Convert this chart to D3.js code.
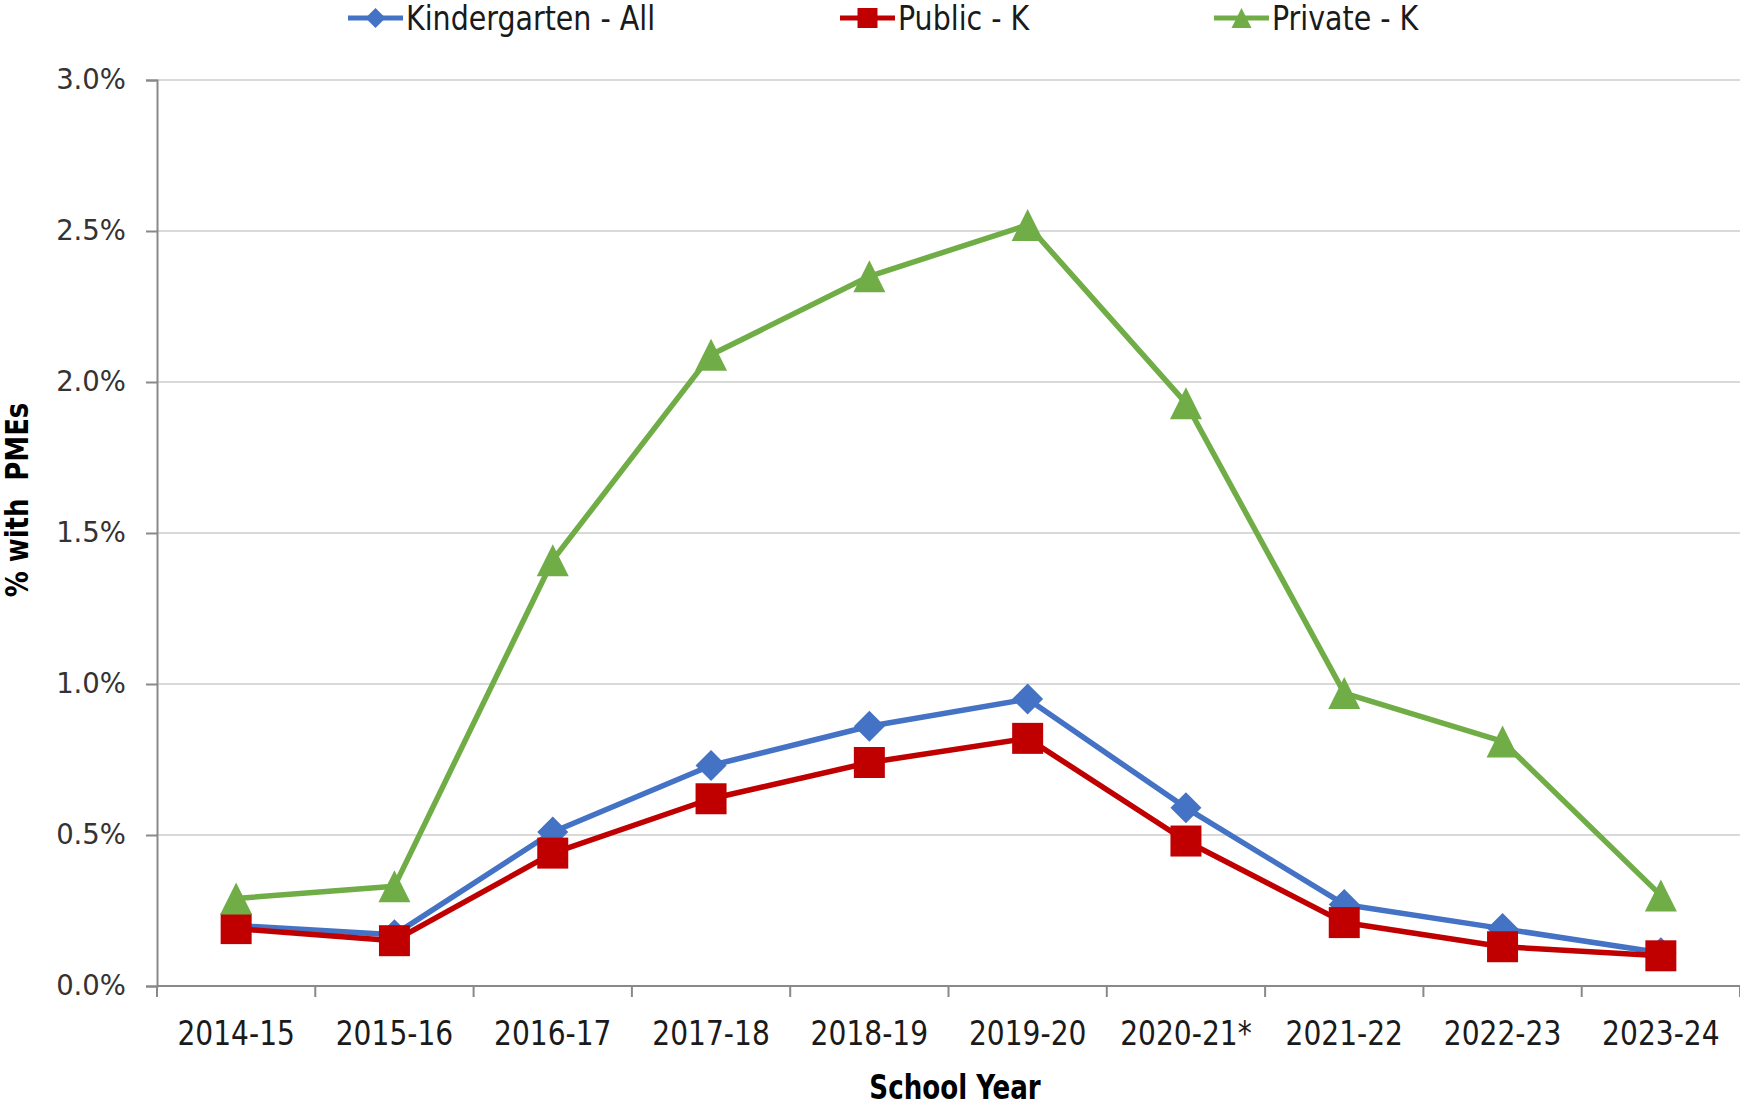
<!DOCTYPE html>
<html>
<head>
<meta charset="utf-8">
<script src="https://cdn.jsdelivr.net/npm/d3@7"></script>
<style>
  body { margin: 0; background: #fff; }
  svg { display: block; }
  .narrow { font-family: "DejaVu Sans Condensed", "DejaVu Sans", sans-serif; font-stretch: condensed; }
</style>
</head>
<body>
<div id="chart"></div>
<script>
// Chart data
const years = ['2014-15', '2015-16', '2016-17', '2017-18', '2018-19', '2019-20', '2020-21*', '2021-22', '2022-23', '2023-24'];
const kindergartenAll = [0.0020, 0.0017, 0.0051, 0.0073, 0.0086, 0.0095, 0.0059, 0.0027, 0.0019, 0.0011];
const publicK = [0.0019, 0.0015, 0.0044, 0.0062, 0.0074, 0.0082, 0.0048, 0.0021, 0.0013, 0.0010];
const privateK = [0.0029, 0.0033, 0.0141, 0.0209, 0.0235, 0.0252, 0.0193, 0.0097, 0.0081, 0.0030];
const yTicks = [0, 0.005, 0.01, 0.015, 0.02, 0.025, 0.03];

const series = [
    { name: 'Kindergarten - All', values: kindergartenAll, color: '#4472c4', marker: 'diamond' },
    { name: 'Public - K', values: publicK, color: '#c00000', marker: 'square' },
    { name: 'Private - K', values: privateK, color: '#70ad47', marker: 'triangle' }
];

const width = 1740, height = 1106;
const margin = {top: 80, right: 0, bottom: 120, left: 157};

// Excel-like marker shapes, r = half size
const markerTypes = {
    diamond: { draw(ctx, r) { ctx.moveTo(0, -r); ctx.lineTo(r, 0); ctx.lineTo(0, r); ctx.lineTo(-r, 0); ctx.closePath(); } },
    square: { draw(ctx, r) { ctx.rect(-r, -r, 2 * r, 2 * r); } },
    triangle: { draw(ctx, r) { ctx.moveTo(0, -r); ctx.lineTo(r, r); ctx.lineTo(-r, r); ctx.closePath(); } }
};

const svg = d3.select('#chart').append('svg')
    .attr('width', width)
    .attr('height', height);

const x = d3.scaleBand()
    .domain(years)
    .range([margin.left, width - margin.right])
    .padding(0);

const y = d3.scaleLinear()
    .domain([0, 0.03])
    .range([height - margin.bottom, margin.top]);

// Gridlines
svg.append('g')
    .selectAll('line')
    .data(yTicks.filter(d => d > 0))
    .enter()
    .append('line')
    .attr('x1', margin.left)
    .attr('x2', width - margin.right)
    .attr('y1', d => y(d))
    .attr('y2', d => y(d))
    .attr('stroke', '#d9d9d9')
    .attr('stroke-width', 2);

// Y axis
const yAxis = svg.append('g')
    .attr('transform', `translate(${margin.left},0)`)
    .call(d3.axisLeft(y).tickValues(yTicks).tickFormat(d3.format('.1%')).tickSize(11).tickPadding(20));
yAxis.select('.domain').attr('stroke', '#898989').attr('stroke-width', 2);
yAxis.selectAll('.tick line').attr('stroke', '#898989').attr('stroke-width', 2);
yAxis.selectAll('.tick text')
    .attr('font-family', '"DejaVu Sans", Verdana, sans-serif')
    .attr('font-size', 27.5)
    .attr('fill', '#333');

// X axis (labels at band centres, ticks at band edges)
const xAxis = svg.append('g')
    .attr('transform', `translate(0,${y(0)})`)
    .call(d3.axisBottom(x).tickSize(0).tickPadding(35));
xAxis.select('.domain').attr('d', `M${margin.left},0H${width - margin.right}`)
    .attr('stroke', '#898989').attr('stroke-width', 2);
xAxis.selectAll('.tick text')
    .attr('class', 'narrow')
    .attr('font-size', 34)
    .attr('transform', 'scale(0.92,1)')
    .attr('fill', '#1a1a1a');

const edges = years.map(d => x(d)).concat([x.range()[1]]);
xAxis.append('g')
    .selectAll('line')
    .data(edges)
    .enter()
    .append('line')
    .attr('x1', d => d)
    .attr('x2', d => d)
    .attr('y1', 0)
    .attr('y2', 11)
    .attr('stroke', '#898989')
    .attr('stroke-width', 2);

// Axis titles
svg.append('text')
    .attr('class', 'narrow')
    .attr('transform', 'translate(28,500) rotate(-90) scale(0.9,1)')
    .attr('text-anchor', 'middle')
    .attr('font-size', 32)
    .attr('font-weight', 'bold')
    .attr('fill', '#000')
    .style('white-space', 'pre')
    .text('% with  PMEs');

svg.append('text')
    .attr('class', 'narrow')
    .attr('transform', 'translate(955,1099) scale(0.88,1)')
    .attr('text-anchor', 'middle')
    .attr('font-size', 33)
    .attr('font-weight', 'bold')
    .attr('fill', '#000')
    .text('School Year');

// Lines and markers
const line = d3.line()
    .x((d, i) => x(years[i]) + x.bandwidth() / 2)
    .y(d => y(d));

series.forEach(s => {
    const g = svg.append('g');
    g.append('path')
        .datum(s.values)
        .attr('fill', 'none')
        .attr('stroke', s.color)
        .attr('stroke-width', 5.5)
        .attr('stroke-linejoin', 'round')
        .attr('d', line);
    g.selectAll('.marker')
        .data(s.values)
        .enter()
        .append('path')
        .attr('class', 'marker')
        .attr('transform', (d, i) => `translate(${x(years[i]) + x.bandwidth() / 2},${y(d)})`)
        .attr('fill', s.color)
        .attr('d', d3.symbol().type(markerTypes[s.marker]).size(s.marker === 'triangle' ? 16 : 15.5));
});

// Legend
const legendX = [348, 840, 1214];
const legend = svg.append('g');
series.forEach((s, i) => {
    const lg = legend.append('g').attr('transform', `translate(${legendX[i]},18)`);
    lg.append('line')
        .attr('x1', 0).attr('x2', 55)
        .attr('stroke', s.color)
        .attr('stroke-width', 5);
    lg.append('path')
        .attr('transform', 'translate(27.5,0)')
        .attr('fill', s.color)
        .attr('d', d3.symbol().type(markerTypes[s.marker]).size(10));
    lg.append('text')
        .attr('class', 'narrow')
        .attr('transform', 'translate(58,12) scale(0.96,1)')
        .attr('font-size', 33)
        .attr('fill', '#1a1a1a')
        .text(s.name);
});
</script>
</body>
</html>
